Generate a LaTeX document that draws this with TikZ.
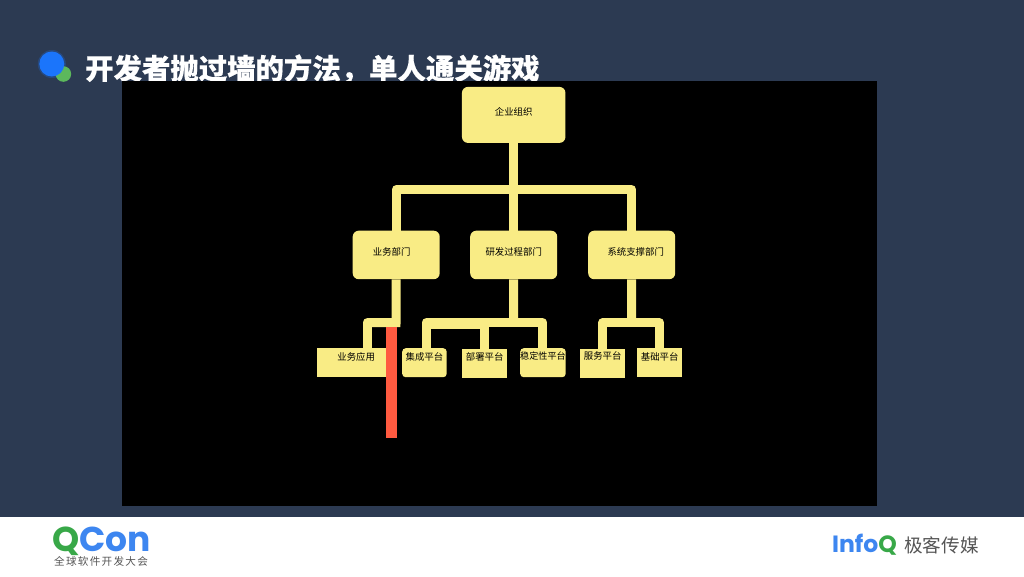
\documentclass[tikz,border=0pt]{standalone}
\usepackage{fontspec}
\setmainfont{Noto Sans CJK SC}
\newfontfamily\logofont{Poppins}
\usetikzlibrary{calc}
\definecolor{slatebg}{HTML}{2C3A52}
\definecolor{stickyfill}{HTML}{F9EC85}
\definecolor{redbar}{HTML}{FF5A40}
\definecolor{qgreen}{HTML}{38A848}
\definecolor{qblue}{HTML}{3D86F0}
\definecolor{dotblue}{HTML}{1B75FB}
\definecolor{dotgreen}{HTML}{5CB85C}
\definecolor{greytext}{HTML}{555555}
\tikzset{
  x=1pt,y=-1pt,
  sticky/.style={fill=stickyfill,text=black,inner sep=0pt,font=\fontsize{9.4}{10}\selectfont,anchor=north west},
  orgbox/.style={sticky,rounded corners=6pt,minimum width=103.5pt,text height=28.8pt,text depth=27.2pt},
  deptbox/.style={sticky,rounded corners=6pt,minimum width=87pt,text height=24.5pt,text depth=24pt},
  leafbox/.style={sticky,text height=12pt,text depth=17pt},
  softleaf/.style={leafbox,rounded corners=3.5pt},
  conn/.style={draw=stickyfill,line width=9pt,line join=round},
}
\begin{document}
\begin{tikzpicture}
\useasboundingbox (0,0) rectangle (1024,576);
\fill[slatebg] (0,0) rectangle (1024,517);
\fill[white] (0,517) rectangle (1024,576);
% title
\fill[dotblue,opacity=.25] (51.8,64) circle (14);
\fill[dotgreen] (63.4,74) circle (7.8);
\fill[dotblue] (51.8,64) circle (12.5);
\node[anchor=west,inner sep=0pt,text=white,font=\fontsize{28.4}{30}\selectfont\bfseries\addfontfeature{FakeBold=0.4}] (title) at (85,69) {开发者抛过墙的方法，单人通关游戏};
% black panel
\fill[black] (122,81) rectangle (877,506);
% boxes
\node[orgbox] (org) at (461.75,86.7) {企业组织};
\node[deptbox] (d1) at (352.5,230.5) {业务部门\hspace*{9pt}};
\node[deptbox] (d2) at (470,230.5) {研发过程部门};
\node[deptbox] (d3) at (588,230.5) {\hspace*{8pt}系统支撑部门};
\node[leafbox,minimum width=78pt] (l1) at (317,348) {业务应用};
\node[softleaf,minimum width=44.5pt] (l2) at (402,348) {集成平台};
\node[leafbox,minimum width=45pt] (l3) at (462,348.5) {部署平台};
\node[softleaf,minimum width=45.5pt,text height=11pt,text depth=18pt,font=\fontsize{9.1}{10}\selectfont] (l4) at (520,348) {稳定性平台};
\node[leafbox,minimum width=45pt,text height=11pt,text depth=18.5pt] (l5) at (580,348.5) {服务平台};
\node[leafbox,minimum width=45pt] (l6) at (637,348) {基础平台};
% connectors
\coordinate (busTop) at (513.5,189.5);
\coordinate (busA) at (396,322.7);
\coordinate (busB) at (513.5,322.7);
\coordinate (busC) at (631.5,322.7);
\coordinate (l1in) at (367,348.5);
\coordinate (l2in) at (426,348.5);
\draw[conn] (org.south) -- (d2.north);
\draw[conn] (d1.north) |- (busTop) -| (d3.north);
\draw[draw=stickyfill,line width=9pt] (d1.south) -- (busA) -- (l1in |- busA);
\draw[conn] ($(l1in |- busA)+(4,0)$) -| (l1in);
\draw[conn] (d2.south) -- (busB);
\draw[conn] (l2in) |- (busB) -| (l4.north);
\draw[conn] (busB) -| (l3.north);
\draw[draw=stickyfill,line width=11pt] ($(l2in |- busB)+(4,1)$) -- ($(l3.north |- busB)+(-4,1)$);
\draw[conn] (d3.south) -- (busC);
\draw[conn] (l5.north) |- (busC) -| (l6.north);
% red bar
\fill[redbar] (385.7,327) rectangle (397,438);
% footer
\node[anchor=base west,inner sep=0pt,text height=25pt,text depth=0pt,font=\logofont\bfseries\fontsize{34.5}{36}\selectfont] (qcon) at (52,551.5) {\textcolor{qgreen}{Q}\textcolor{qblue}{Con}};
\node[anchor=west,inner sep=0pt,text=greytext,text height=9pt,text depth=1pt,font=\fontsize{10.6}{11}\selectfont\addfontfeature{LetterSpace=12}] (qsub) at (54,561.5) {全球软件开发大会};
\node[anchor=west,inner sep=0pt,font=\logofont\bfseries\fontsize{23.5}{24}\selectfont] (infoq) at (832,545) {\textcolor{qblue}{Info}\textcolor{qgreen}{Q}};
\node[anchor=west,inner sep=0pt,text=greytext,font=\fontsize{18.6}{20}\selectfont] (geek) at (904,545.5) {极客传媒};
\end{tikzpicture}
\end{document}
